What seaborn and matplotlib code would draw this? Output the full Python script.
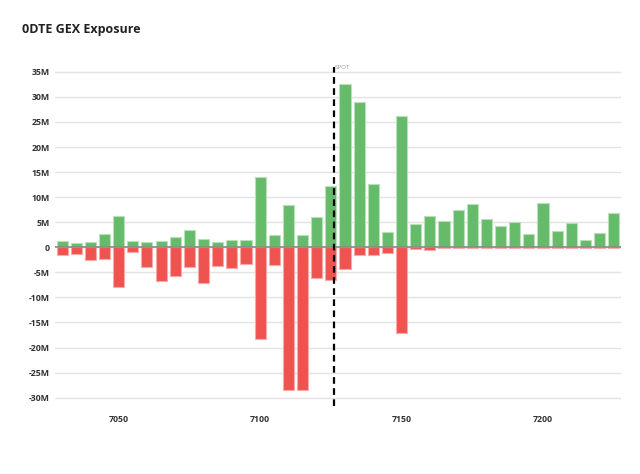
import numpy as np
import pandas as pd
import matplotlib
matplotlib.use("Agg")
import matplotlib.pyplot as plt
import seaborn as sns
from matplotlib.ticker import FuncFormatter

# =========================================
# DADOS
# =========================================

strikes = list(range(7030, 7230, 5))

gex_call = [
    1.33, 0.86, 1.13, 2.72, 6.18, 1.20, 1.06, 1.26, 2.06, 3.45,
    1.73, 1.13, 1.53, 1.53, 14.0, 2.46, 8.50, 2.52, 6.10, 12.2,
    32.5, 28.95, 12.7, 3.12, 26.2, 4.65, 6.24, 5.18, 7.37, 8.63,
    5.71, 4.32, 5.11, 2.66, 8.83, 3.25, 4.91, 1.39, 2.86, 6.77,
]

gex_put = [
    -1.53, -1.27, -2.53, -2.33, -8.0, -0.87, -4.0, -6.67, -5.8, -3.87,
    -7.2, -3.73, -4.13, -3.33, -18.33, -3.47, -28.47, -28.47, -6.07, -6.6,
    -4.4, -1.6, -1.6, -1.2, -17.07, -0.4, -0.6, -0.05, -0.2, -0.2,
    -0.2, -0.2, -0.05, -0.05, -0.2, -0.2, -0.05, -0.05, -0.05, -0.05,
]

spot = 7126

df = pd.DataFrame({
    "strike": strikes,
    "call": np.array(gex_call) * 1e6,
    "put": np.array(gex_put) * 1e6,
})

# =========================================
# ESTILO
# =========================================

sns.set_style("white")
plt.rcParams["font.family"] = ["Open Sans", "DejaVu Sans"]

verde = "#66bb6a"
vermelho = "#ef5350"

fig = plt.figure(figsize=(6.4, 4.74), dpi=100)
ax = fig.add_axes([0.086, 0.143, 0.884, 0.716])

sns.barplot(
    data=df, x="strike", y="call", native_scale=True,
    color=verde, saturation=1, width=0.78,
    edgecolor="#b9e0ba", linewidth=0.8, ax=ax, zorder=3
)
sns.barplot(
    data=df, x="strike", y="put", native_scale=True,
    color=vermelho, saturation=1, width=0.78,
    edgecolor="#f7aaa8", linewidth=0.8, ax=ax, zorder=3
)

ax.axhline(0, color="#8a8a8a", lw=1.2, zorder=4)
ax.axvline(spot, color="black", lw=1.6, ls=(0, (3, 2)), zorder=5)
ax.text(spot + 0.3, 35.3e6, "SPOT", fontsize=4.5, color="#9a9a9a",
        va="bottom", ha="left", zorder=6)

ax.set_xlim(7027.5, 7227.5)
ax.set_ylim(-31.7e6, 36.0e6)

ax.set_yticks(np.arange(-30, 36, 5) * 1e6)
ax.yaxis.set_major_formatter(FuncFormatter(
    lambda v, p: "0" if abs(v) < 1 else f"{int(round(v / 1e6))}M".replace("−", "-")
))
ax.set_xticks([7050, 7100, 7150, 7200])
ax.set_xticklabels(["7050", "7100", "7150", "7200"])

ax.grid(axis="y", color="#e3e3e3", lw=1, zorder=0)
ax.set_axisbelow(True)
ax.tick_params(axis="both", length=0, labelsize=6.3, colors="#333333")
for lab in ax.get_xticklabels() + ax.get_yticklabels():
    lab.set_fontweight("bold")
ax.tick_params(axis="y", pad=4)
ax.tick_params(axis="x", pad=6)

for s in ax.spines.values():
    s.set_visible(False)

ax.set_xlabel("")
ax.set_ylabel("")

fig.text(0.034, 0.938, "0DTE GEX Exposure", fontsize=9, fontweight="bold",
         color="#222222", va="center", ha="left")

fig.savefig("out.png", dpi=100)
